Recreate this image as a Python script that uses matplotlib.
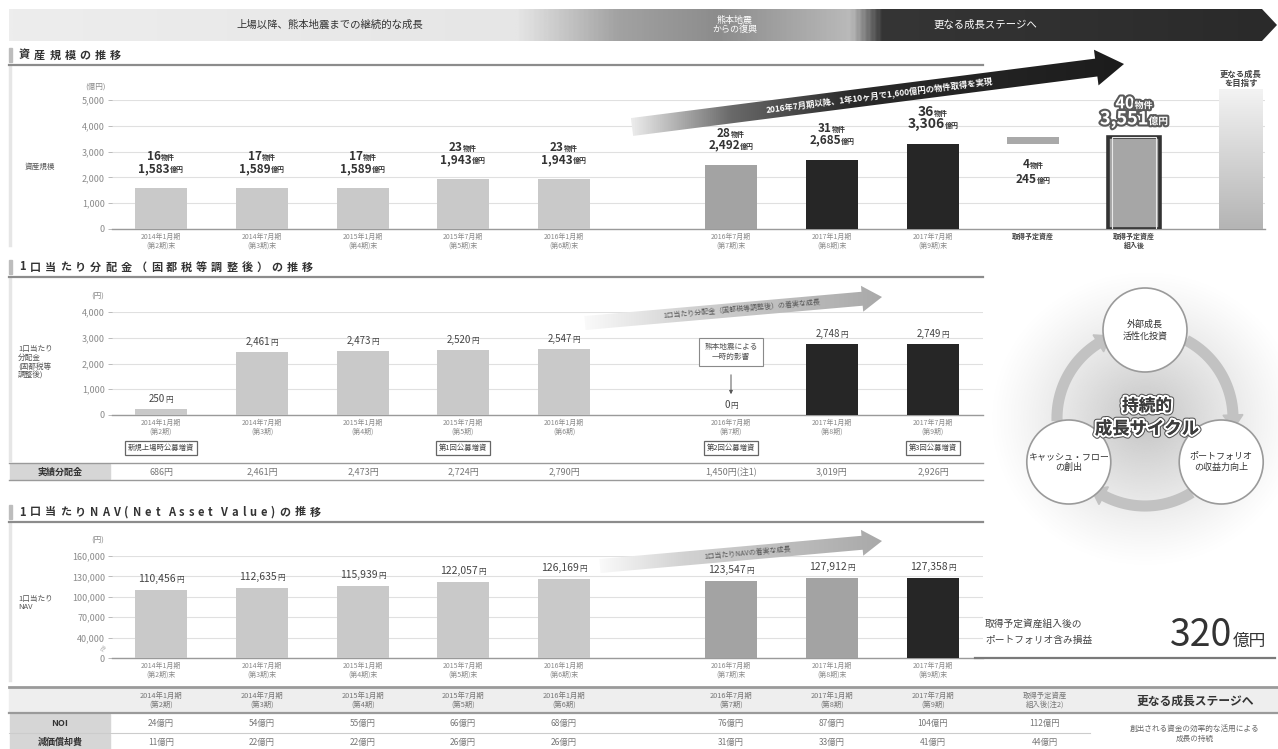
import numpy as np
import matplotlib
matplotlib.use("Agg")
import matplotlib.pyplot as plt
import matplotlib.patheffects as pe
from matplotlib.patches import Polygon, Rectangle, Circle
from matplotlib.colors import LinearSegmentedColormap, to_rgb
from matplotlib.ticker import FuncFormatter

plt.rcParams['font.family'] = ['Noto Sans CJK JP', 'DejaVu Sans']

# ---- data ----
periods = ["2014年1月期", "2014年7月期", "2015年1月期", "2015年7月期",
           "2016年1月期", "2016年7月期", "2017年1月期", "2017年7月期"]
terms = ["第2期", "第3期", "第4期", "第5期", "第6期", "第7期", "第8期", "第9期"]
asset_oku = [1583, 1589, 1589, 1943, 1943, 2492, 2685, 3306]
asset_count = [16, 17, 17, 23, 23, 28, 31, 36]
planned_oku = 245
planned_count = 4
after_oku = 3551
after_count = 40
goal_bar = 5400
dpu = [250, 2461, 2473, 2520, 2547, 0, 2748, 2749]
dpu_actual = [686, 2461, 2473, 2724, 2790, 1450, 3019, 2926]
nav = [110456, 112635, 115939, 122057, 126169, 123547, 127912, 127358]
nav_ticks = [0, 40000, 70000, 100000, 130000, 160000]
noi = [24, 54, 55, 66, 68, 76, 87, 104, 112]
depr = [11, 22, 22, 26, 26, 31, 33, 41, 44]
offerings = ["新規上場時公募増資", "", "", "第1回公募増資", "", "第2回公募増資", "", "第3回公募増資"]
unrealized_gain = 320

# ---- layout (pixels) ----
W, H = 1278, 749
xs = [161, 262, 363, 463, 564, 731, 832, 933]
x_planned, x_after, x_goal = 1033, 1134, 1241
x_tab_after = 1045
NAV_SHIFT = 10000  # broken axis: 40,000 sits one step above 0

C_LIGHT, C_MID, C_DARK = '#c9c9c9', '#a3a3a3', '#262626'
TXT = '#333333'

fig = plt.figure(figsize=(W / 100, H / 100), dpi=100)
fig.patch.set_facecolor('white')
renderer = fig.canvas.get_renderer()

bg = fig.add_axes([0, 0, 1, 1], zorder=-1)
bg.set_axis_off()
bg.set_xlim(0, W)
bg.set_ylim(H, 0)
ov = fig.add_axes([0, 0, 1, 1], zorder=10)
ov.set_axis_off()
ov.patch.set_visible(False)
ov.set_xlim(0, W)
ov.set_ylim(H, 0)


def px_axes(x0, y0, x1, y1):
    ax = fig.add_axes([x0 / W, 1 - y1 / H, (x1 - x0) / W, (y1 - y0) / H])
    ax.set_facecolor('none')
    ax.set_xlim(x0, x1)
    return ax


def top_px(ax, x, v):
    return H - ax.transData.transform((x, v))[1]


def num_unit(x, y, num, unit, s1, s2, color=TXT, weight='bold', effects=None, z=20):
    t1 = ov.text(0, y, num, fontsize=s1, fontweight=weight, color=color, va='baseline', zorder=z)
    t2 = ov.text(0, y, unit, fontsize=s2, fontweight=weight, color=color, va='baseline', zorder=z)
    w1 = t1.get_window_extent(renderer).width
    w2 = t2.get_window_extent(renderer).width
    left = x - (w1 + w2) / 2
    t1.set_x(left)
    t2.set_x(left + w1)
    if effects:
        t1.set_path_effects(effects)
        t2.set_path_effects(effects)


def tracked(x, y, s, size, gap, **kw):
    cx = x
    for ch in s:
        if ch == ' ':
            cx += size * 0.45
            continue
        t = ov.text(cx, y, ch, fontsize=size, va='center', ha='left', **kw)
        cx += t.get_window_extent(renderer).width + gap


def grad_poly(axx, pts, stops, z=5, vertical=False):
    pts = np.asarray(pts, float)
    patch = Polygon(pts, closed=True, fc='none', ec='none')
    axx.add_patch(patch)
    x0, x1 = pts[:, 0].min(), pts[:, 0].max()
    y0, y1 = pts[:, 1].min(), pts[:, 1].max()
    cmap = LinearSegmentedColormap.from_list('g', stops)
    g = np.linspace(0, 1, 512)
    arr = g[:, None] if vertical else g[None, :]
    im = axx.imshow(arr, cmap=cmap, extent=(x0, x1, y1, y0), aspect='auto',
                    zorder=z, interpolation='bilinear')
    im.set_clip_path(patch)


def arrow_pts(x0, y0, x1, y1, hw, head_hw, head_len):
    p0, p1 = np.array([x0, y0], float), np.array([x1, y1], float)
    u = (p1 - p0) / np.linalg.norm(p1 - p0)
    n = np.array([-u[1], u[0]])
    b = p1 - u * head_len
    return [p0 + n * hw, b + n * hw, b + n * head_hw, p1, b - n * head_hw, b - n * hw, p0 - n * hw]


def section(y, title, x_end, y_end):
    bg.add_patch(Rectangle((9, y - 7), 3, 14, color='#bdbdbd'))
    tracked(19, y, title, 8, 4, fontweight='bold', color=TXT)
    ov.plot([9, x_end], [y + 10, y + 10], color='#8c8c8c', lw=1.6, zorder=3)
    bg.plot([10, 10], [y + 11, y_end], color='#e6e6e6', lw=2.5)


def style_axis(ax, ticks, labels=None):
    ax.set_yticks(ticks)
    if labels is not None:
        ax.set_yticklabels(labels)
    else:
        ax.yaxis.set_major_formatter(FuncFormatter(lambda v, p: f"{int(v):,}"))
    ax.grid(axis='y', color='#e0e0e0', lw=0.8)
    ax.set_axisbelow(True)
    for s in ['top', 'right', 'left']:
        ax.spines[s].set_visible(False)
    ax.spines['bottom'].set_color('#9a9a9a')
    ax.spines['bottom'].set_linewidth(1.0)
    ax.tick_params(axis='y', labelsize=6.5, labelcolor='#8a8a8a', length=3, width=0.6,
                   color='#b0b0b0', pad=2)
    ax.tick_params(axis='x', length=0, pad=3, labelsize=5, labelcolor='#8a8a8a')


# ---- top banner ----
banner = [(9, 9), (1262, 9), (1277, 25), (1262, 41), (9, 41)]
grad_poly(bg, banner, [(0, '#ededed'), (0.40, '#e6e6e6'), (0.48, '#a2a2a2'),
                       (0.56, '#8c8c8c'), (0.665, '#bababa'), (0.69, '#353535'),
                       (1, '#2a2a2a')], z=2)
ov.text(330, 25, "上場以降、熊本地震までの継続的な成長", fontsize=7.5, color=TXT,
        ha='center', va='center')
ov.text(735, 25, "熊本地震\nからの復興", fontsize=6.5, color='white', ha='center',
        va='center', linespacing=1.0)
ov.text(985, 25, "更なる成長ステージへ", fontsize=7.5, color='white', ha='center', va='center')

# ---- section 1: asset size ----
section(55, "資産規模の推移", 983, 245)
ax1 = px_axes(112, 100, 1265, 229)
ax1.set_ylim(0, 5000)
style_axis(ax1, range(0, 5001, 1000))
ax1.bar(xs, asset_oku, width=52, color=[C_LIGHT] * 5 + [C_MID] + [C_DARK] * 2, zorder=3)
ax1.bar(x_planned, planned_oku, bottom=asset_oku[-1], width=52, color='#a9a9a9', zorder=3)
ax1.bar(x_after, after_oku, width=52, color='#a6a6a6', edgecolor='#333333', linewidth=2.6, zorder=3)
ax1.bar(x_after, after_oku, width=44, color='none', edgecolor='#e8e8e8', linewidth=0.8, zorder=4)
gx0, gx1 = x_goal - 22, x_goal + 22
goal_im = ax1.imshow(np.linspace(0, 1, 256)[:, None],
                     cmap=LinearSegmentedColormap.from_list('gb', ['#f3f3f3', '#b4b4b4']),
                     extent=(gx0, gx1, 0, goal_bar), aspect='auto', zorder=3)
goal_im.set_clip_on(False)
ax1.set_xlim(112, 1265)
ax1.set_ylim(0, 5000)
lab1 = [f"{p}\n({t})末" for p, t in zip(periods, terms)] + ["取得予定資産", "取得予定資産\n組入後"]
ax1.set_xticks(xs + [x_planned, x_after])
ax1.set_xticklabels(lab1, linespacing=1.15)
for t in ax1.get_xticklabels()[8:]:
    t.set_fontweight('bold')
    t.set_color('#444444')
ov.text(96, 87, "(億円)", fontsize=5.5, color='#8a8a8a', ha='center', va='center')
ov.text(40, 167, "資産規模", fontsize=5.5, color='#555', ha='center', va='center')

for i, (x, v, c) in enumerate(zip(xs, asset_oku, asset_count)):
    top = top_px(ax1, x, v)
    big = 10 if i == 7 else 8.5
    num_unit(x, top - 16, f"{v:,}", "億円", big, 5)
    num_unit(x, top - 28, f"{c}", "物件", big, 5)
pb = top_px(ax1, x_planned, asset_oku[-1])
num_unit(x_planned, pb + 24, f"{planned_count}", "物件", 8.5, 5)
num_unit(x_planned, pb + 39, f"{planned_oku}", "億円", 8.5, 5)
halo = [pe.withStroke(linewidth=3, foreground='#5a5a5a')]
at = top_px(ax1, x_after, after_oku)
num_unit(x_after, at - 13, f"{after_oku:,}", "億円", 13, 7, color='white', effects=halo)
num_unit(x_after, at - 29, f"{after_count}", "物件", 11.5, 6.5, color='white', effects=halo)
ov.text(x_goal, 79, "更なる成長\nを目指す", fontsize=6, fontweight='bold', color='#444',
        ha='center', va='center', linespacing=1.1)

big_arrow = arrow_pts(632, 127, 1124, 64, 9, 18, 28)
grad_poly(ov, big_arrow, [(0, '#ececec'), (0.2, '#6a6a6a'), (0.45, '#2a2a2a'), (1, '#1c1c1c')], z=6)
ang1 = np.degrees(np.arctan2(127 - 64, 1124 - 632))
ov.text(880, 96, "2016年7月期以降、1年10ヶ月で1,600億円の物件取得を実現", fontsize=6,
        fontweight='bold', color='white', ha='center', va='center', rotation=ang1, zorder=7)

# ---- section 2: distribution per unit ----
section(267, "1口当たり分配金（固都税等調整後）の推移", 983, 460)
ax2 = px_axes(112, 312, 983, 415)
ax2.set_ylim(0, 4000)
style_axis(ax2, range(0, 4001, 1000))
ax2.bar(xs, dpu, width=52, color=[C_LIGHT] * 5 + [C_MID] + [C_DARK] * 2, zorder=3)
ax2.set_xticks(xs)
ax2.set_xticklabels([f"{p}\n({t})" for p, t in zip(periods, terms)], linespacing=1.15)
ov.text(98, 297, "(円)", fontsize=5.5, color='#8a8a8a', ha='center', va='center')
ov.text(18, 362, "1口当たり\n分配金\n(固都税等\n調整後)", fontsize=5.5, color='#555',
        ha='left', va='center', linespacing=1.15)

dpu_arrow = arrow_pts(585, 323, 882, 297, 7, 13, 20)
grad_poly(ov, dpu_arrow, [(0, '#fafafa'), (0.35, '#d2d2d2'), (1, '#a9a9a9')], z=6)
ang2 = np.degrees(np.arctan2(323 - 297, 882 - 585))
ov.text(742, 309, "1口当たり分配金（固都税等調整後）の着実な成長", fontsize=5, color='#555',
        ha='center', va='center', rotation=ang2, zorder=7)

for x, v in zip(xs, dpu):
    num_unit(x, top_px(ax2, x, v) - 7, f"{v:,}", "円", 7, 5.5, weight='normal', color='#444')
ov.text(xs[5], 352, "熊本地震による\n一時的影響", fontsize=5.5, color='#555', ha='center',
        va='center', linespacing=1.3, zorder=8,
        bbox=dict(boxstyle='square,pad=0.7', fc='white', ec='#8a8a8a', lw=0.8))
ov.annotate('', xy=(xs[5], 397), xytext=(xs[5], 372),
            arrowprops=dict(arrowstyle='-|>', color='#555', lw=0.7, mutation_scale=5), zorder=8)
for x, lab in zip(xs, offerings):
    if lab:
        ov.text(x, 448, lab, fontsize=5.3, color='#444', ha='center', va='center',
                bbox=dict(boxstyle='square,pad=0.4', fc='white', ec='#666', lw=0.9))

# actual distribution row
ov.plot([9, 983], [463, 463], color='#9a9a9a', lw=1.0)
ov.plot([9, 983], [480, 480], color='#9a9a9a', lw=1.0)
bg.add_patch(Rectangle((10, 464), 100, 15, color='#d6d6d6'))
ov.text(60, 472, "実績分配金", fontsize=6.5, fontweight='bold', color=TXT, ha='center', va='center')
for i, (x, v) in enumerate(zip(xs, dpu_actual)):
    s = f"{v:,}円" + ("(注1)" if i == 5 else "")
    ov.text(x, 472, s, fontsize=6.5, color='#777', ha='center', va='center')

# ---- section 3: NAV per unit ----
section(512, "1口当たりNAV(Net Asset Value)の推移", 983, 680)
ax3 = px_axes(112, 556, 983, 658)
ax3.set_ylim(0, nav_ticks[-1] - NAV_SHIFT)
style_axis(ax3, [0] + [t - NAV_SHIFT for t in nav_ticks[1:]], [f"{t:,}" for t in nav_ticks])
ax3.bar(xs, [v - NAV_SHIFT for v in nav], width=52,
        color=[C_LIGHT] * 5 + [C_MID] * 2 + [C_DARK], zorder=3)
ax3.set_xticks(xs)
ax3.set_xticklabels([f"{p}\n({t})末" for p, t in zip(periods, terms)], linespacing=1.15)
ov.text(98, 541, "(円)", fontsize=5.5, color='#8a8a8a', ha='center', va='center')
ov.text(104, 648, "≈", fontsize=6, color='#999', ha='center', va='center', rotation=60)
ov.text(18, 603, "1口当たり\nNAV", fontsize=5.5, color='#555', ha='left', va='center',
        linespacing=1.15)
nav_arrow = arrow_pts(600, 566, 882, 541, 7, 13, 20)
grad_poly(ov, nav_arrow, [(0, '#fafafa'), (0.3, '#d2d2d2'), (1, '#a9a9a9')], z=6)
ang3 = np.degrees(np.arctan2(566 - 541, 882 - 600))
ov.text(748, 553, "1口当たりNAVの着実な成長", fontsize=5, color='#555', ha='center',
        va='center', rotation=ang3, zorder=7)
for x, v in zip(xs, nav):
    num_unit(x, top_px(ax3, x, v - NAV_SHIFT) - 8, f"{v:,}", "円", 7.5, 5.5,
             weight='normal', color='#444')

# ---- growth cycle diagram ----
cx, cy, R = 1145, 418, 88
n = 220
yy, xx = np.mgrid[0:n, 0:n]
rr = np.hypot(xx - n / 2, (yy - n / 2) * 1.05) / (n / 2)
blob = np.zeros((n, n, 4))
blob[..., :3] = to_rgb('#c4c4c4')
blob[..., 3] = np.clip(1 - rr, 0, 1) ** 1.2
bg.imshow(blob, extent=(cx - 155, cx + 155, cy + 155, cy - 155), aspect='auto', zorder=1)

for a0, a1 in [(182, 122), (62, 2), (302, 242)]:
    th = np.radians(np.linspace(a0, a1, 60))
    ov.plot(cx + R * np.cos(th), cy - R * np.sin(th), color='#c2c2c2', lw=8,
            solid_capstyle='butt', zorder=3)
    t = np.radians(a1)
    e = np.array([cx + R * np.cos(t), cy - R * np.sin(t)])
    u = np.array([np.sin(t), np.cos(t)])
    nn = np.array([-u[1], u[0]])
    ov.add_patch(Polygon([e + nn * 10, e + u * 14, e - nn * 10], closed=True,
                         color='#c2c2c2', zorder=3))

for ang, lab in [(90, "外部成長\n活性化投資"), (210, "キャッシュ・フロー\nの創出"),
                 (330, "ポートフォリオ\nの収益力向上")]:
    px = cx + R * np.cos(np.radians(ang))
    py = cy - R * np.sin(np.radians(ang))
    ov.add_patch(Circle((px, py), 42, fc='white', ec='#9a9a9a', lw=1.2, zorder=4))
    ov.text(px, py, lab, fontsize=6.5, color=TXT, ha='center', va='center',
            linespacing=1.3, zorder=5)

cyc_fx = [pe.withStroke(linewidth=4.5, foreground='#555'), pe.withStroke(linewidth=3, foreground='white'),
          pe.Normal()]
ov.text(cx + 2, 406, "持続的", fontsize=12, fontweight='bold', color='#3c3c3c', ha='center',
        va='center', path_effects=cyc_fx, zorder=6)
ov.text(cx + 2, 429, "成長サイクル", fontsize=12.5, fontweight='bold', color='#3c3c3c',
        ha='center', va='center', path_effects=cyc_fx, zorder=6)

# unrealized gain
ov.text(985, 624, "取得予定資産組入後の", fontsize=7, color='#444', ha='left', va='center')
ov.text(985, 640, "ポートフォリオ含み損益", fontsize=7, color='#444', ha='left', va='center')
ov.text(1232, 646, f"{unrealized_gain}", fontsize=27, color=TXT, ha='right', va='baseline')
ov.text(1233, 646, "億円", fontsize=12, color=TXT, ha='left', va='baseline')
ov.plot([975, 1275], [658, 658], color='#7a7a7a', lw=1.6)

# ---- bottom table ----
ov.plot([9, 1278], [687, 687], color='#9a9a9a', lw=2)
bg.add_patch(Rectangle((9, 688), 1269, 24, color='#eeeeee'))
ov.plot([9, 1278], [713, 713], color='#9a9a9a', lw=1.6)
tab_x = xs + [x_tab_after]
tab_head = [f"{p}\n({t})" for p, t in zip(periods, terms)] + ["取得予定資産\n組入後(注2)"]
for x, lab in zip(tab_x, tab_head):
    ov.text(x, 700, lab, fontsize=5.3, color='#777', ha='center', va='center', linespacing=1.15)
ov.text(1195, 701, "更なる成長ステージへ", fontsize=8.5, fontweight='bold', color=TXT,
        ha='center', va='center')
bg.add_patch(Rectangle((10, 714), 100, 18, color='#d6d6d6'))
bg.add_patch(Rectangle((10, 734), 100, 15, color='#d6d6d6'))
ov.plot([9, 1090], [733, 733], color='#cccccc', lw=0.8)
ov.text(60, 723, "NOI", fontsize=6.5, fontweight='bold', color=TXT, ha='center', va='center')
ov.text(60, 742, "減価償却費", fontsize=6.5, fontweight='bold', color=TXT, ha='center', va='center')
for x, a, b in zip(tab_x, noi, depr):
    ov.text(x, 723, f"{a}億円", fontsize=6, color='#777', ha='center', va='center')
    ov.text(x, 742, f"{b}億円", fontsize=6, color='#777', ha='center', va='center')
ov.text(1195, 734, "創出される資金の効率的な活用による\n成長の持続", fontsize=5.5, color='#666',
        ha='center', va='center', linespacing=1.4)

bg.set_xlim(0, W)
bg.set_ylim(H, 0)
ov.set_xlim(0, W)
ov.set_ylim(H, 0)
fig.savefig("out.png", dpi=100)
